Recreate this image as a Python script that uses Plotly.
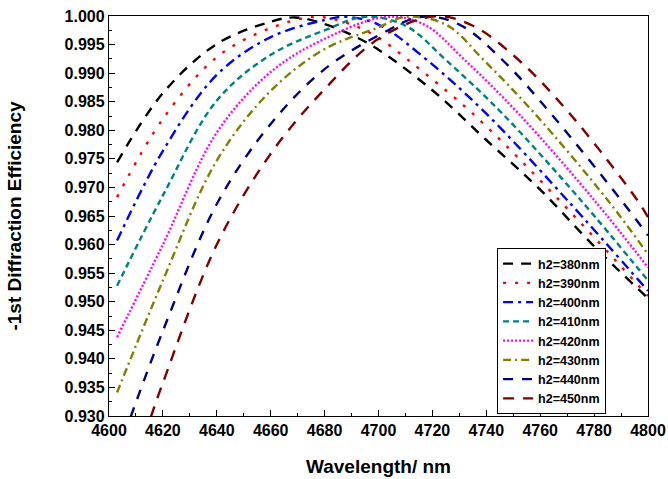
import plotly.graph_objects as go

# ---- data ----
wl_380 = [4603, 4620, 4640, 4660, 4669, 4680, 4690, 4700, 4720, 4740, 4760, 4780, 4800]
ef_380 = [0.9744, 0.9865, 0.9951, 0.9990, 0.99975, 0.9986, 0.9967, 0.9941, 0.9870, 0.9783, 0.9696, 0.9597, 0.9506]

wl_390 = [4603, 4620, 4640, 4660, 4677, 4690, 4700, 4711, 4735, 4767, 4800]
ef_390 = [0.9683, 0.9820, 0.9928, 0.9979, 0.99985, 0.9985, 0.9962, 0.9923, 0.9829, 0.9678, 0.9510]

wl_400 = [4603, 4620, 4640, 4660, 4680, 4688, 4700, 4718, 4740, 4770, 4800]
ef_400 = [0.9607, 0.9764, 0.9897, 0.9963, 0.9993, 0.99985, 0.9985, 0.9923, 0.9829, 0.9678, 0.9519]

wl_410 = [4603, 4620, 4640, 4660, 4680, 4695, 4710, 4725, 4746, 4775, 4800]
ef_410 = [0.9528, 0.9686, 0.9852, 0.9932, 0.9975, 0.99985, 0.9983, 0.9923, 0.9829, 0.9678, 0.9537]

wl_420 = [4603, 4620, 4640, 4660, 4680, 4703, 4717, 4732, 4752, 4780, 4800]
ef_420 = [0.9438, 0.9600, 0.9796, 0.9902, 0.9960, 0.99985, 0.9985, 0.9923, 0.9829, 0.9678, 0.9560]

wl_430 = [4603, 4620, 4640, 4660, 4680, 4700, 4710, 4725, 4739, 4758, 4785, 4800]
ef_430 = [0.9341, 0.9537, 0.9747, 0.9869, 0.9942, 0.9980, 0.99985, 0.9985, 0.9923, 0.9829, 0.9678, 0.9583]

wl_440 = [4608, 4620, 4640, 4660, 4680, 4700, 4716, 4730, 4746, 4764, 4790, 4800]
ef_440 = [0.9298, 0.9449, 0.9671, 0.9811, 0.9907, 0.9966, 0.99985, 0.9985, 0.9923, 0.9829, 0.9678, 0.9616]

wl_450 = [4615.5, 4620, 4640, 4660, 4680, 4700, 4721, 4735, 4752, 4771, 4796, 4800]
ef_450 = [0.9298, 0.9358, 0.9600, 0.9759, 0.9872, 0.9960, 0.99995, 0.9983, 0.9923, 0.9829, 0.9678, 0.9648]

series_names = ["h2=380nm", "h2=390nm", "h2=400nm", "h2=410nm",
                "h2=420nm", "h2=430nm", "h2=440nm", "h2=450nm"]

x_title = "Wavelength/ nm"
y_title = "-1st Diffraction Efficiency"

# ---- styles ----
colors = ["#000000", "#FF0000", "#0000FF", "#008080",
          "#FF00FF", "#808000", "#000080", "#800000"]
dashes = ["10px,8px", "3px,9px", "10px,5px,3px,5px", "6px,4px",
          "2px,2px", "8px,4px,2px,4px", "10px,9px", "11px,9px"]

wls = [wl_380, wl_390, wl_400, wl_410, wl_420, wl_430, wl_440, wl_450]
efs = [ef_380, ef_390, ef_400, ef_410, ef_420, ef_430, ef_440, ef_450]

FONT = "Liberation Sans, Arial, sans-serif"

fig = go.Figure()
for name, x, y, c, d in zip(series_names, wls, efs, colors, dashes):
    fig.add_trace(go.Scatter(
        x=x, y=y, mode="lines", name=name,
        line=dict(color=c, width=2.4, dash=d, shape="spline", smoothing=1.0),
    ))

axis_common = dict(
    showline=True, linecolor="black", linewidth=1.3, mirror=True,
    showgrid=False, zeroline=False, automargin=False,
    ticks="inside", ticklen=6, tickwidth=1.2, tickcolor="black",
    tickfont=dict(family=FONT, size=16, color="black", weight="bold"),
)

fig.update_xaxes(
    range=[4600, 4800], dtick=20, tick0=4600,
    minor=dict(ticks="inside", ticklen=3, tickwidth=1.2, dtick=10, tickcolor="black"),
    title=dict(text=x_title, font=dict(family=FONT, size=19, color="black", weight="bold"),
               standoff=21),
    **axis_common,
)
fig.update_yaxes(
    range=[0.93, 1.0], dtick=0.005, tick0=0.93, tickformat=".3f",
    minor=dict(ticks="inside", ticklen=3, tickwidth=1.2, dtick=0.0025, tickcolor="black"),
    title=dict(text=y_title, font=dict(family=FONT, size=19, color="black", weight="bold"),
               standoff=37),
    **axis_common,
)

fig.update_layout(
    width=668, height=479,
    margin=dict(l=109, r=20, t=16, b=63),
    paper_bgcolor="white", plot_bgcolor="white",
    showlegend=True,
    legend=dict(
        x=0.72, y=0.42, xanchor="left", yanchor="top",
        bgcolor="white", bordercolor="black", borderwidth=1,
        font=dict(family=FONT, size=12.5, color="black", weight="bold"),
        tracegroupgap=0, itemwidth=30,
    ),
)

fig.write_html("out.html")
